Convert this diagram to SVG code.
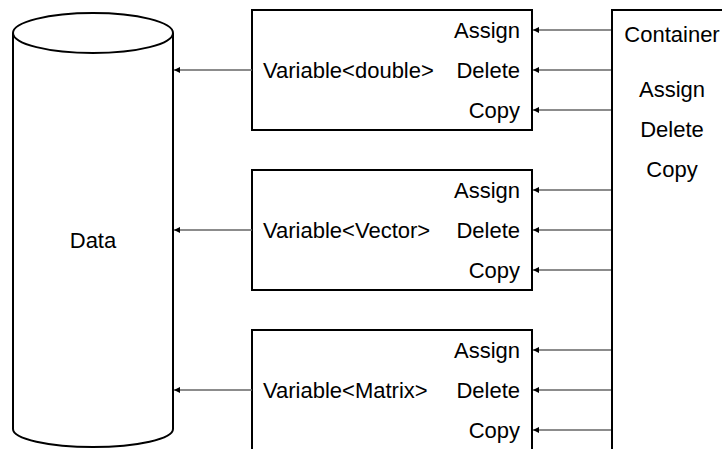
<svg xmlns="http://www.w3.org/2000/svg" width="722" height="449" viewBox="0 0 722 449">
<style>
.box{fill:#fff;stroke:#000;stroke-width:2}
.t{font-family:"Liberation Sans",Arial,sans-serif;font-size:22px;fill:#000}
.r{text-anchor:end}
.m{text-anchor:middle}
.c{stroke:#666;stroke-width:1.5;fill:none;marker-end:url(#ah)}
</style>
<defs>
<marker id="ah" viewBox="0 0 10 10" refX="10" refY="5" markerWidth="6" markerHeight="6" orient="auto" markerUnits="userSpaceOnUse">
<path d="M0,0 L10,5 L0,10 z" fill="#000"/>
</marker>
</defs>
<rect width="722" height="449" fill="#fff"/>
<g id="data">
<path class="box" d="M13,33 L13,429 A80,18 0 0 0 173,429 L173,33"/>
<ellipse class="box" cx="93" cy="33" rx="80" ry="20"/>
<text class="t m" x="93" y="248">Data</text>
</g>
<g id="var-double">
<rect class="box" x="252" y="10" width="280" height="120"/>
<text class="t" x="263" y="78">Variable&lt;double&gt;</text>
<text class="t r" x="520" y="37.5">Assign</text>
<text class="t r" x="520" y="77.5">Delete</text>
<text class="t r" x="520" y="117.5">Copy</text>
</g>
<g id="var-vector">
<rect class="box" x="252" y="170" width="280" height="120"/>
<text class="t" x="263" y="238">Variable&lt;Vector&gt;</text>
<text class="t r" x="520" y="197.5">Assign</text>
<text class="t r" x="520" y="237.5">Delete</text>
<text class="t r" x="520" y="277.5">Copy</text>
</g>
<g id="var-matrix">
<rect class="box" x="252" y="330" width="280" height="140"/>
<text class="t" x="263" y="398">Variable&lt;Matrix&gt;</text>
<text class="t r" x="520" y="357.5">Assign</text>
<text class="t r" x="520" y="397.5">Delete</text>
<text class="t r" x="520" y="437.5">Copy</text>
</g>
<g id="container">
<rect class="box" x="612" y="10" width="130" height="460"/>
<text class="t m" x="672" y="42">Container</text>
<text class="t m" x="672" y="97">Assign</text>
<text class="t m" x="672" y="137">Delete</text>
<text class="t m" x="672" y="177">Copy</text>
</g>
<g id="connectors">
<line class="c" x1="252" y1="70" x2="174" y2="70"/>
<line class="c" x1="252" y1="230" x2="174" y2="230"/>
<line class="c" x1="252" y1="390" x2="174" y2="390"/>
<line class="c" x1="611" y1="30" x2="533" y2="30"/>
<line class="c" x1="611" y1="70" x2="533" y2="70"/>
<line class="c" x1="611" y1="110" x2="533" y2="110"/>
<line class="c" x1="611" y1="190" x2="533" y2="190"/>
<line class="c" x1="611" y1="230" x2="533" y2="230"/>
<line class="c" x1="611" y1="270" x2="533" y2="270"/>
<line class="c" x1="611" y1="350" x2="533" y2="350"/>
<line class="c" x1="611" y1="390" x2="533" y2="390"/>
<line class="c" x1="611" y1="430" x2="533" y2="430"/>
</g>
</svg>
